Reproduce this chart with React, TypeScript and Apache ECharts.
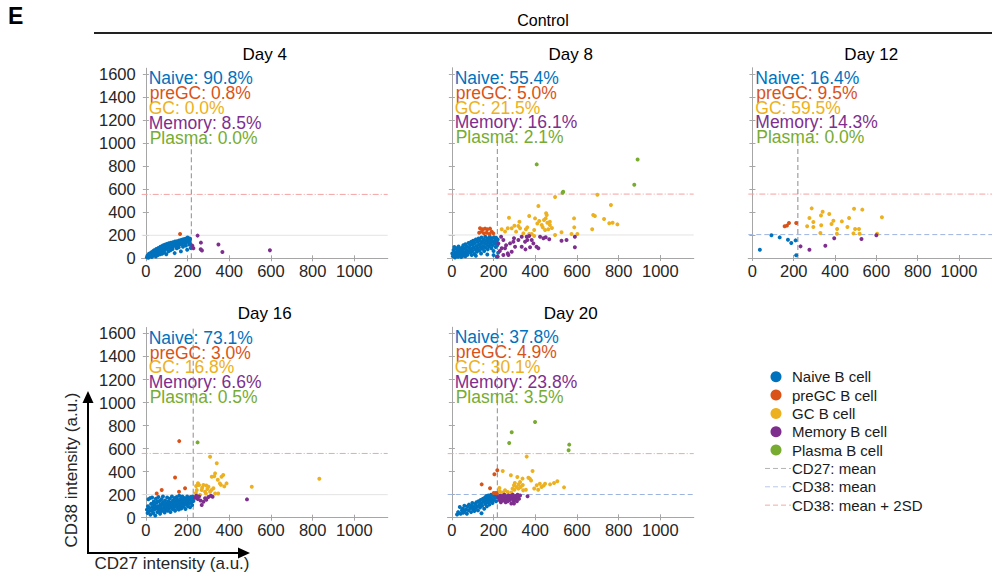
import React, { useEffect, useRef } from "react";
import * as echarts from "echarts";

const FONT = '"Liberation Sans", Arial, Helvetica, sans-serif';

const CATEGORIES = ["Naive", "preGC", "GC", "Memory", "Plasma"];
const LEGEND_NAMES = ["Naive B cell", "preGC B cell", "GC B cell", "Memory B cell", "Plasma B cell"];
const LINE_LEGEND = ["CD27: mean", "CD38: mean", "CD38: mean + 2SD"];
const COLORS = ["#0072BD", "#D95319", "#EDB120", "#7E2F8E", "#77AC30"];
const DAYS = ["Day 4", "Day 8", "Day 12", "Day 16", "Day 20"];
const X_TICKS = [0, 200, 400, 600, 800, 1000];
const Y_TICKS = [0, 200, 400, 600, 800, 1000, 1200, 1400, 1600];

const pctDay4 = ["90.8", "0.8", "0.0", "8.5", "0.0"];
const pctDay8 = ["55.4", "5.0", "21.5", "16.1", "2.1"];
const pctDay12 = ["16.4", "9.5", "59.5", "14.3", "0.0"];
const pctDay16 = ["73.1", "3.0", "16.8", "6.6", "0.5"];
const pctDay20 = ["37.8", "4.9", "30.1", "23.8", "3.5"];

const cd27Mean = [218, 218, 220, 227, 218];
const cd38Mean = [200, 200, 203, 200, 198];
const cd38Mean2SD = [555, 555, 555, 558, 553];
const cd27LineTop = [1030, 1030, 1030, 1650, 1650];

// ---------- Day 4 ----------
const day4Naive = [[5,10],[8,25],[12,5],[15,40],[18,18],[22,30],[25,50],[28,12],[30,35],[33,60],[35,22],[38,45],[40,70],[42,30],[45,55],[48,15],[50,80],[52,40],[55,62],[58,28],[60,90],[62,48],[65,72],[68,35],[70,100],[72,58],[75,82],[78,40],[80,110],[82,65],[85,92],[88,50],[90,118],[92,75],[95,100],[98,35],[100,125],[102,85],[105,108],[108,60],[110,130],[112,92],[115,115],[118,70],[120,135],[122,100],[125,120],[128,80],[130,140],[132,105],[135,125],[138,45],[140,145],[142,110],[145,130],[148,88],[150,148],[152,115],[155,135],[158,95],[160,155],[162,120],[165,140],[168,60],[170,160],[172,125],[175,145],[178,100],[180,165],[185,130],[188,150],[190,170],[192,110],[195,140],[198,75],[200,180],[205,155],[208,120],[212,165],[215,90],[208,145],[210,172],[212,128],[205,162]];
const day4PreGC = [[164,211]];
const day4GC: number[][] = [];
const day4Memory = [[248,197],[264,136],[223,110],[228,87],[263,78],[269,67],[348,119],[367,55],[595,69]];
const day4Plasma: number[][] = [];

// ---------- Day 8 ----------
const day8Naive = [[2,40],[5,15],[8,70],[10,30],[12,95],[15,5],[18,50],[20,20],[22,80],[25,38],[28,60],[30,10],[32,100],[35,45],[38,25],[40,75],[42,55],[45,8],[48,90],[50,35],[52,65],[55,110],[58,20],[60,50],[62,85],[65,120],[68,40],[70,70],[72,100],[75,28],[78,55],[80,130],[82,90],[85,65],[88,110],[90,45],[92,140],[95,80],[98,120],[100,60],[102,150],[105,95],[108,35],[110,130],[112,75],[115,160],[118,105],[120,55],[122,140],[125,85],[128,170],[130,115],[132,65],[135,150],[138,95],[140,125],[142,178],[145,80],[148,140],[150,105],[152,160],[155,60],[158,130],[160,185],[162,90],[165,150],[168,115],[170,170],[172,75],[175,135],[178,100],[180,160],[182,185],[185,120],[188,145],[190,85],[192,170],[195,110],[198,140],[200,60],[202,180],[205,125],[208,155],[210,95],[212,175],[215,135],[218,110],[220,160],[222,45],[25,85],[45,30],[65,15],[95,25],[115,20],[140,40],[170,30],[200,25],[215,10]];
const day8PreGC = [[135,258],[148,249],[159,255],[170,249],[183,255],[143,229],[154,214],[167,220],[180,208],[191,229],[199,214],[131,220]];
const day8GC = [[495,530],[698,550],[763,460],[415,451],[274,350],[371,365],[399,344],[419,321],[452,388],[455,373],[450,344],[324,315],[319,278],[327,258],[287,258],[268,258],[308,229],[343,214],[355,249],[362,266],[395,243],[383,208],[431,286],[436,266],[447,243],[463,249],[470,286],[470,315],[458,307],[442,330],[586,344],[587,266],[602,208],[574,208],[526,223],[678,373],[686,365],[673,249],[730,339],[755,301],[771,307],[794,292],[239,249],[395,191],[371,208],[495,200],[255,230],[300,280],[410,300],[480,260]];
const day8Memory = [[236,185],[247,156],[223,127],[239,84],[220,12],[247,26],[268,40],[279,127],[298,171],[319,156],[335,185],[359,185],[362,156],[371,191],[383,156],[391,127],[406,98],[415,84],[423,185],[439,171],[467,162],[303,98],[335,98],[353,75],[375,93],[287,55],[271,26],[255,84],[295,142],[526,150],[550,156],[590,185],[590,93],[351,142],[230,60],[260,110],[450,180]];
const day8Plasma = [[407,813],[891,856],[875,637],[534,576],[531,567]];

// ---------- Day 12 ----------
const day12Naive = [[36,72],[92,197],[132,179],[172,159],[188,130],[209,153],[212,23]];
const day12PreGC = [[156,275],[167,281],[177,304],[212,304]];
const day12GC = [[287,431],[340,402],[332,370],[276,347],[295,312],[265,275],[295,269],[333,284],[329,217],[372,382],[383,295],[392,324],[410,252],[409,211],[433,318],[468,347],[460,269],[492,428],[532,420],[497,252],[489,214],[516,252],[519,211],[627,353],[604,211]];
const day12Memory = [[233,101],[276,72],[353,107],[396,171],[528,165],[600,197]];
const day12Plasma: number[][] = [];

// ---------- Day 16 ----------
const day16Naive = [[5,70],[8,40],[10,100],[12,160],[15,55],[18,85],[20,170],[22,25],[25,120],[28,60],[30,175],[32,90],[35,40],[38,140],[40,70],[42,110],[45,20],[48,165],[50,85],[52,130],[55,50],[58,100],[60,180],[62,70],[65,145],[68,35],[70,115],[72,90],[75,160],[78,60],[80,130],[82,185],[85,80],[88,105],[90,45],[92,150],[95,70],[98,125],[100,95],[102,175],[105,60],[108,140],[110,110],[112,80],[115,165],[118,50],[120,130],[122,100],[125,185],[128,75],[130,150],[132,115],[135,90],[138,170],[140,60],[142,135],[145,105],[148,180],[150,85],[152,155],[155,120],[158,70],[160,190],[162,140],[165,100],[168,165],[170,80],[172,125],[175,185],[178,110],[180,150],[182,95],[185,170],[188,130],[190,75],[192,160],[195,115],[198,185],[200,140],[202,100],[205,170],[208,125],[210,155],[212,90],[215,180],[218,135],[220,160],[222,110],[225,185],[228,145],[230,175],[45,95],[55,140],[65,75],[75,110],[85,135],[95,100],[105,120],[115,95],[125,110],[135,130],[145,145],[155,100],[165,130],[175,150],[185,140],[195,160],[70,55],[90,120],[110,90],[130,100],[150,130],[170,115],[190,125],[30,120],[100,80]];
const day16PreGC = [[160,665],[140,350],[76,240],[52,211],[159,226],[188,255]];
const day16GC = [[308,530],[340,472],[332,385],[316,356],[328,360],[363,356],[371,370],[355,298],[387,298],[376,272],[241,275],[255,284],[244,240],[268,240],[284,226],[300,269],[308,226],[332,211],[324,255],[288,211],[260,197],[347,211],[508,269],[832,339],[276,284],[250,300],[295,250],[315,240],[345,330],[360,285],[290,280],[270,260],[240,215]];
const day16Memory = [[236,174],[249,162],[276,139],[284,168],[268,110],[312,191],[320,182],[300,180],[262,150],[290,155],[255,185],[485,159],[242,190]];
const day16Plasma = [[248,654]];

// ---------- Day 20 ----------
const day20Naive = [[25,25],[30,45],[38,90],[42,30],[48,60],[52,75],[55,40],[60,100],[62,55],[68,70],[72,30],[75,95],[80,60],[82,110],[88,80],[92,45],[95,100],[98,125],[102,70],[105,90],[108,55],[112,115],[115,80],[118,130],[122,95],[125,60],[128,140],[132,110],[135,85],[138,150],[140,120],[142,35],[145,100],[148,160],[152,135],[155,75],[158,170],[160,115],[162,145],[165,185],[168,95],[170,160],[172,130],[175,190],[178,150],[180,110],[182,175],[185,140],[188,195],[190,160],[195,125],[198,185],[200,150],[205,195],[208,170],[212,140],[215,185]];
const day20PreGC = [[218,408],[204,373],[143,286],[183,252],[201,211],[211,211],[216,208]];
const day20GC = [[359,527],[387,402],[244,402],[228,255],[230,226],[283,365],[314,350],[327,307],[339,336],[367,344],[374,336],[380,320],[298,278],[291,249],[310,263],[330,263],[342,234],[355,240],[255,234],[268,220],[407,278],[422,292],[430,263],[414,240],[447,292],[471,286],[490,298],[506,313],[538,260],[302,298],[319,249],[285,215],[320,285],[340,280],[300,240],[245,215],[395,250],[440,275]];
const day20Memory = [[222,175],[228,150],[232,190],[235,130],[238,165],[242,185],[245,145],[248,170],[252,195],[255,155],[258,130],[262,180],[265,160],[268,140],[272,190],[275,170],[278,150],[282,185],[285,120],[288,165],[292,195],[295,145],[298,175],[300,155],[305,185],[308,165],[312,140],[315,195],[318,175],[322,160],[327,190],[298,119],[363,182]];
const day20Plasma = [[399,828],[287,738],[275,645],[563,631],[560,582]];

const PANEL_DATA = [
  [day4Naive, day4PreGC, day4GC, day4Memory, day4Plasma],
  [day8Naive, day8PreGC, day8GC, day8Memory, day8Plasma],
  [day12Naive, day12PreGC, day12GC, day12Memory, day12Plasma],
  [day16Naive, day16PreGC, day16GC, day16Memory, day16Plasma],
  [day20Naive, day20PreGC, day20GC, day20Memory, day20Plasma],
];
const PANEL_PCTS = [pctDay4, pctDay8, pctDay12, pctDay16, pctDay20];

// layout (pixels)
const GRIDS = [
  { left: 141.7, top: 68.3 },
  { left: 447.7, top: 68 },
  { left: 748.3, top: 68 },
  { left: 141.7, top: 327.7 },
  { left: 447.7, top: 327.3 },
];
const GW = 246;
const GH = 190;
const SHOW_Y_LABELS = [true, false, false, true, false];
const CD38_MEAN_STYLE = ["gray", "gray", "blue", "gray", "blue"];

const AXIS_COLOR = "#a6a6a6";
const LABEL_COLOR = "#262626";
const plain = (v: number) => String(v);

export default function App() {
  const ref = useRef<HTMLDivElement>(null);

  useEffect(() => {
    if (!ref.current) return;
    const chart = echarts.init(ref.current, null, { renderer: "svg" });

    const grid: any[] = [];
    const xAxis: any[] = [];
    const yAxis: any[] = [];
    const series: any[] = [];
    const graphic: any[] = [];

    GRIDS.forEach((g, p) => {
      grid.push({ left: g.left, top: g.top, width: GW, height: GH, show: false });
      const xBase = {
        type: "value",
        gridIndex: p,
        min: -20,
        max: 1160,
        splitLine: { show: false },
        axisLine: { show: true, lineStyle: { color: AXIS_COLOR, width: 1 } },
        axisTick: { show: true, inside: true, length: 3, customValues: X_TICKS, lineStyle: { color: AXIS_COLOR } },
      };
      xAxis.push({
        ...xBase,
        position: "bottom",
        axisLabel: { show: true, customValues: X_TICKS, formatter: plain, color: LABEL_COLOR, fontSize: 16.5, fontFamily: FONT, margin: 4 },
      });
      xAxis.push({ ...xBase, position: "top", axisLabel: { show: false } });
      const yBase = {
        type: "value",
        gridIndex: p,
        min: 0,
        max: 1650,
        splitLine: { show: false },
        axisLine: { show: true, lineStyle: { color: AXIS_COLOR, width: 1 } },
        axisTick: { show: true, inside: true, length: 3, customValues: Y_TICKS, lineStyle: { color: AXIS_COLOR } },
      };
      yAxis.push({
        ...yBase,
        position: "left",
        axisLabel: { show: SHOW_Y_LABELS[p], customValues: Y_TICKS, formatter: plain, color: LABEL_COLOR, fontSize: 16.5, fontFamily: FONT, margin: 6 },
      });
      yAxis.push({ ...yBase, position: "right", axisLabel: { show: false } });

      const xi = 2 * p;
      const yi = 2 * p;
      const blue = CD38_MEAN_STYLE[p] === "blue";
      series.push({
        type: "line", xAxisIndex: xi, yAxisIndex: yi, silent: true, symbol: "none", z: 1,
        data: [[-20, cd38Mean[p]], [1160, cd38Mean[p]]],
        lineStyle: blue ? { color: "#9db3e0", width: 1, type: [5, 3] } : { color: "#e3e3e3", width: 1, type: "solid" },
      });
      series.push({
        type: "line", xAxisIndex: xi, yAxisIndex: yi, silent: true, symbol: "none", z: 1,
        data: [[-20, cd38Mean2SD[p]], [1160, cd38Mean2SD[p]]],
        lineStyle: { color: "#f4a3a3", width: 1, type: [6, 2, 1, 2] },
      });
      series.push({
        type: "line", xAxisIndex: xi, yAxisIndex: yi, silent: true, symbol: "none", z: 1,
        data: [[cd27Mean[p], 0], [cd27Mean[p], cd27LineTop[p]]],
        lineStyle: { color: "#8c8c8c", width: 1, type: [5, 3] },
      });
      PANEL_DATA[p].forEach((d, c) => {
        series.push({
          type: "scatter", name: CATEGORIES[c], xAxisIndex: xi, yAxisIndex: yi, silent: true, z: 2,
          data: d, symbolSize: 4, itemStyle: { color: COLORS[c], opacity: 1 },
        });
      });

      graphic.push({
        type: "text", x: g.left + GW / 2, y: g.top - 14,
        style: { text: DAYS[p], fill: "#000", font: `17px ${FONT}`, textAlign: "center", textVerticalAlign: "middle" },
      });
      CATEGORIES.forEach((cat, c) => {
        graphic.push({
          type: "text", x: g.left + 7 + (c === 1 || c === 4 ? 1 : 0), y: g.top + 10 + c * 14.8,
          style: { text: `${cat}: ${PANEL_PCTS[p][c]}%`, fill: COLORS[c], font: `17.5px ${FONT}`, textAlign: "left", textVerticalAlign: "middle" },
        });
      });
    });

    graphic.push({ type: "text", x: 8, y: 16, style: { text: "E", fill: "#000", font: `bold 23px ${FONT}`, textAlign: "left", textVerticalAlign: "middle" } });
    graphic.push({ type: "text", x: 543, y: 20, style: { text: "Control", fill: "#000", font: `16px ${FONT}`, textAlign: "center", textVerticalAlign: "middle" } });
    graphic.push({ type: "line", shape: { x1: 94, y1: 33, x2: 992, y2: 33 }, style: { stroke: "#222", lineWidth: 2 } });

    graphic.push({ type: "line", shape: { x1: 88, y1: 553, x2: 88, y2: 400 }, style: { stroke: "#000", lineWidth: 2 } });
    graphic.push({ type: "polygon", shape: { points: [[88, 391], [82.5, 403], [93.5, 403]] }, style: { fill: "#000" } });
    graphic.push({ type: "line", shape: { x1: 87, y1: 553, x2: 240, y2: 553 }, style: { stroke: "#000", lineWidth: 2 } });
    graphic.push({ type: "polygon", shape: { points: [[250, 553], [238, 547.5], [238, 558.5]] }, style: { fill: "#000" } });
    graphic.push({
      type: "text", x: 71, y: 470, rotation: Math.PI / 2,
      style: { text: "CD38 intensity (a.u.)", fill: "#262626", font: `17px ${FONT}`, textAlign: "center", textVerticalAlign: "middle" },
    });
    graphic.push({
      type: "text", x: 172, y: 563,
      style: { text: "CD27 intensity (a.u.)", fill: "#262626", font: `17px ${FONT}`, textAlign: "center", textVerticalAlign: "middle" },
    });

    const LEG_Y0 = 376.7;
    const LEG_DY = 18.35;
    LEGEND_NAMES.forEach((name, i) => {
      const y = LEG_Y0 + i * LEG_DY;
      graphic.push({ type: "circle", shape: { cx: 776, cy: y, r: 5.5 }, style: { fill: COLORS[i] } });
      graphic.push({ type: "text", x: 792, y, style: { text: name, fill: "#1a1a1a", font: `15px ${FONT}`, textAlign: "left", textVerticalAlign: "middle" } });
    });
    const LINE_COLORS = ["#b3b3b3", "#b8c8ea", "#f4a8a8"];
    LINE_LEGEND.forEach((name, i) => {
      const y = LEG_Y0 + (5 + i) * LEG_DY;
      graphic.push({ type: "line", shape: { x1: 765, y1: y, x2: 791, y2: y }, style: { stroke: LINE_COLORS[i], lineWidth: 1, lineDash: [5, 3] } });
      graphic.push({ type: "text", x: 792, y, style: { text: name, fill: "#1a1a1a", font: `15px ${FONT}`, textAlign: "left", textVerticalAlign: "middle" } });
    });

    chart.setOption({
      animation: false,
      backgroundColor: "#ffffff",
      textStyle: { fontFamily: FONT },
      grid,
      xAxis,
      yAxis,
      series,
      graphic,
    });

    return () => chart.dispose();
  }, []);

  return (
    <div
      ref={ref}
      style={{ position: "fixed", left: 0, top: 0, width: 992, height: 575, background: "#fff" }}
    />
  );
}
